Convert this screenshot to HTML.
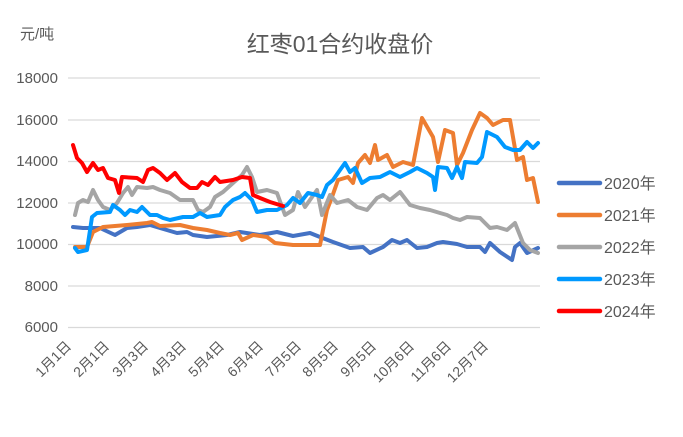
<!DOCTYPE html>
<html><head><meta charset="utf-8"><style>body{margin:0;background:#fff}svg{display:block}</style></head><body>
<svg width="683" height="437" xmlns="http://www.w3.org/2000/svg" font-family="Liberation Sans, Noto Sans CJK SC, sans-serif">
<rect width="683" height="437" fill="#fff"/>
<text x="340" y="52" font-size="23" fill="#595959" text-anchor="middle">红枣01合约收盘价</text>
<text x="20" y="39" font-size="15" fill="#595959">元/吨</text>
<g stroke="#d9d9d9" stroke-width="1.3">
<line x1="68" x2="540" y1="78" y2="78"/><line x1="68" x2="540" y1="120" y2="120"/><line x1="68" x2="540" y1="161.5" y2="161.5"/><line x1="68" x2="540" y1="203" y2="203"/><line x1="68" x2="540" y1="244.5" y2="244.5"/><line x1="68" x2="540" y1="286" y2="286"/><line x1="68" x2="540" y1="327.5" y2="327.5"/>
</g>
<g font-size="15" fill="#595959" text-anchor="end">
<text x="58" y="83">18000</text><text x="58" y="125">16000</text><text x="58" y="166">14000</text><text x="58" y="208">12000</text><text x="58" y="249">10000</text><text x="58" y="291">8000</text><text x="58" y="332">6000</text>
</g>
<g font-size="14" fill="#595959" text-anchor="end">
<text transform="translate(72,347) rotate(-45)">1月1日</text>
<text transform="translate(110,347) rotate(-45)">2月1日</text>
<text transform="translate(149,347) rotate(-45)">3月3日</text>
<text transform="translate(187,347) rotate(-45)">4月3日</text>
<text transform="translate(225,347) rotate(-45)">5月4日</text>
<text transform="translate(264,347) rotate(-45)">6月4日</text>
<text transform="translate(302,347) rotate(-45)">7月5日</text>
<text transform="translate(339,347) rotate(-45)">8月5日</text>
<text transform="translate(377,347) rotate(-45)">9月5日</text>
<text transform="translate(415,347) rotate(-45)">10月6日</text>
<text transform="translate(452,347) rotate(-45)">11月6日</text>
<text transform="translate(489,347) rotate(-45)">12月7日</text>
</g>
<g fill="none" stroke-width="4" stroke-linejoin="round" stroke-linecap="round">
<polyline stroke="#4472C4" points="73,227 83,228 100,228 115,235 127,228 137,227 150,225 160,228 177,233 187,232 193,235 207,237 227,235 240,232 260,235 277,232 293,236 310,233 320,237 333,242 350,248 363,247 370,253 383,247 392,240 400,243 407,240 417,248 427,247 437,243 443,242 457,244 467,247 480,247 485,252 490,243 500,252 512,260 515,247 520,243 527,253 538,248"/>
<polyline stroke="#ED7D31" points="75,247 87,247 93,232 103,227 127,225 147,223 152,222 160,226 180,225 193,228 207,230 220,233 230,235 238,233 242,240 253,235 267,237 275,243 293,245 320,245 327,210 332,197 338,180 348,177 353,183 358,163 365,155 370,163 375,145 378,160 387,155 393,167 403,162 413,165 422,118 433,137 438,162 445,130 453,133 457,165 463,153 472,130 480,113 487,118 493,125 503,120 510,120 517,160 523,157 527,180 533,178 538,202"/>
<polyline stroke="#A5A5A5" points="75,215 78,203 83,200 88,202 93,190 98,200 103,207 110,210 117,203 123,193 128,187 132,195 137,187 147,188 153,187 160,190 170,193 180,200 193,200 198,210 203,212 210,207 215,197 223,192 233,183 242,175 247,167 252,177 257,192 267,190 277,193 285,215 293,210 298,192 305,207 317,190 322,215 330,195 337,203 348,200 357,207 367,210 377,198 383,195 390,200 400,192 410,205 420,208 430,210 440,213 447,215 453,218 460,220 467,217 480,218 490,228 497,227 507,230 515,223 523,243 530,250 538,253"/>
<polyline stroke="#0099FF" points="75,248 78,252 87,250 92,217 97,213 110,212 113,205 120,210 125,215 130,210 137,212 142,207 150,215 157,215 163,218 170,220 183,217 193,217 200,213 207,217 220,215 225,207 233,200 240,197 245,193 252,200 257,212 267,210 277,210 287,205 293,198 300,203 308,193 317,195 322,197 327,185 333,180 340,170 345,163 350,172 355,168 362,183 370,178 380,177 390,172 400,177 410,172 417,168 427,173 433,177 435,190 438,167 447,168 452,178 457,167 462,178 465,162 477,163 482,157 487,132 497,137 505,147 513,150 520,150 527,142 533,148 538,143"/>
<polyline stroke="#FF0000" points="73,145 77,158 82,163 87,172 93,163 98,170 103,168 108,178 115,180 119,193 122,177 137,178 143,182 148,170 153,168 160,173 167,180 175,173 182,182 190,188 197,188 202,182 208,185 215,177 220,182 233,180 242,177 250,178 253,195 260,198 270,202 283,206"/>
</g>
<g stroke-width="4.5" stroke-linecap="round">
<line x1="559" x2="600" y1="183" y2="183" stroke="#4472C4"/>
<line x1="559" x2="600" y1="215" y2="215" stroke="#ED7D31"/>
<line x1="559" x2="600" y1="247" y2="247" stroke="#A5A5A5"/>
<line x1="559" x2="600" y1="279" y2="279" stroke="#0099FF"/>
<line x1="559" x2="600" y1="311" y2="311" stroke="#FF0000"/>
</g>
<g font-size="16" fill="#595959">
<text x="604" y="189">2020年</text><text x="604" y="221">2021年</text><text x="604" y="253">2022年</text><text x="604" y="285">2023年</text><text x="604" y="317">2024年</text>
</g>
</svg>
</body></html>
